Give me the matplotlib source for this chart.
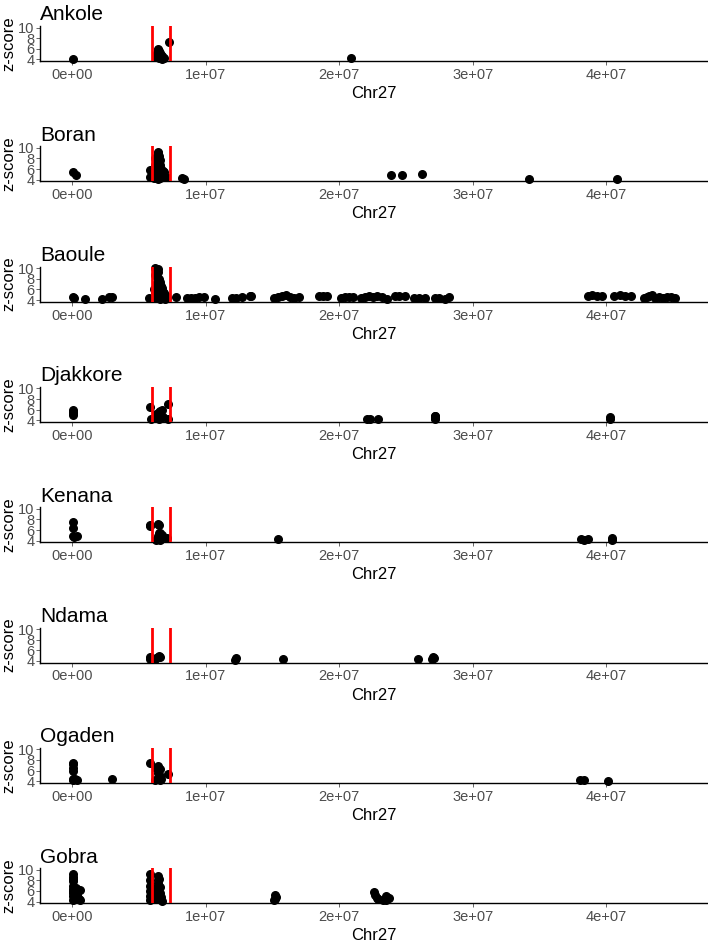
import numpy as np
import matplotlib.pyplot as plt

plt.rcParams['font.family'] = ['Liberation Sans', 'DejaVu Sans']

# positions in Mb, z-scores
breeds = ['Ankole', 'Boran', 'Baoule', 'Djakkore', 'Kenana', 'Ndama', 'Ogaden', 'Gobra']

ankole_pos = [0.1, 6.3, 6.35, 6.4, 6.45, 6.5, 6.5, 6.55, 6.6, 6.6, 6.65, 6.7, 6.75, 6.8, 6.9, 7.25, 20.9]
ankole_z = [4.1, 4.4, 5.3, 6.0, 5.8, 4.2, 5.5, 4.8, 5.2, 4.4, 4.9, 4.1, 4.6, 4.3, 4.2, 7.2, 4.3]

boran_pos = [0.07, 0.3, 5.85, 5.85, 6.1, 6.2, 6.3, 6.3, 6.35, 6.4, 6.4, 6.45, 6.45, 6.5, 6.5, 6.55,
             6.55, 6.6, 6.6, 6.65, 6.7, 6.8, 6.9, 7.0, 6.25, 6.35, 6.5, 6.7, 6.2,
             8.2, 8.4, 23.9, 24.7, 26.2, 34.2, 40.8]
boran_z = [5.5, 4.9, 5.9, 4.5, 4.3, 8.0, 7.2, 4.8, 6.0, 9.3, 6.5, 9.0, 4.2, 8.5, 5.0, 7.8,
           5.6, 6.8, 4.4, 6.0, 5.4, 5.6, 5.5, 4.6, 5.6, 4.4, 6.2, 4.6, 6.8,
           4.4, 4.2, 4.9, 4.9, 5.0, 4.2, 4.2]

baoule_pos = [0.1, 0.15, 0.95, 2.25, 2.8, 3.0, 5.75, 6.15, 6.2, 6.25, 6.3, 6.3, 6.35, 6.4, 6.4,
              6.45, 6.5, 6.5, 6.55, 6.6, 6.65, 6.7, 6.75, 6.8, 6.9, 7.0, 7.1, 6.3, 6.5, 6.6,
              6.2, 6.25, 6.35, 6.45, 6.55, 6.2, 6.4, 6.6, 6.85, 6.95,
              7.8, 8.6, 8.9, 9.2, 9.5, 9.9, 10.7, 12.0, 12.3, 12.7, 13.3, 13.4,
              15.1, 15.4, 15.7, 16.0, 16.3, 16.6, 17.0, 18.5, 18.8, 19.1, 20.1, 20.4, 20.7, 21.0,
              21.6, 21.9, 22.2, 22.5, 22.8, 23.2, 23.6, 24.2, 24.5, 24.9, 25.6, 26.0, 26.4,
              27.2, 27.5, 27.9, 28.2, 38.6, 38.9, 39.3, 39.7, 40.6, 41.0, 41.4, 41.8,
              42.8, 43.0, 43.2, 43.4, 43.6, 43.9, 44.2, 44.5, 44.8, 45.1]
baoule_z = [4.6, 4.4, 4.1, 4.2, 4.5, 4.6, 4.3, 6.0, 10.0, 9.6, 9.0, 5.0, 8.4, 9.8, 7.5,
            9.2, 8.0, 6.5, 7.4, 6.8, 6.6, 6.2, 5.8, 5.6, 5.4, 4.8, 4.3, 4.4, 4.6, 4.2,
            8.8, 7.0, 6.2, 5.4, 5.0, 5.5, 4.5, 5.2, 4.6, 4.2,
            4.6, 4.3, 4.4, 4.4, 4.5, 4.6, 4.1, 4.3, 4.4, 4.5, 4.7, 4.8,
            4.4, 4.5, 4.7, 4.9, 4.6, 4.4, 4.5, 4.8, 4.7, 4.8, 4.3, 4.6, 4.5, 4.6,
            4.4, 4.6, 4.7, 4.6, 4.7, 4.6, 4.1, 4.7, 4.8, 4.7, 4.3, 4.4, 4.3,
            4.3, 4.4, 4.2, 4.5, 4.8, 4.9, 4.8, 4.8, 4.8, 4.9, 4.8, 4.7,
            4.3, 4.6, 4.8, 5.0, 4.4, 4.6, 4.4, 4.5, 4.6, 4.4]

djakkore_pos = [0.07, 0.07, 0.07, 0.07, 5.8, 5.9, 6.2, 6.3, 6.4, 6.5, 6.5, 6.6, 6.6, 6.7, 6.8,
                7.2, 7.2, 22.1, 22.3, 22.9, 27.2, 27.2, 27.2, 27.2, 40.3, 40.3]
djakkore_z = [5.0, 5.3, 5.6, 5.9, 6.5, 4.3, 4.5, 5.2, 4.8, 5.5, 4.2, 5.8, 5.0, 6.0, 4.6,
              7.1, 4.3, 4.2, 4.3, 4.3, 4.2, 4.5, 4.8, 4.9, 4.3, 4.6]

kenana_pos = [0.07, 0.07, 0.07, 0.15, 0.35, 5.8, 5.85, 6.3, 6.4, 6.45, 6.5, 6.5, 6.55, 6.6, 6.6,
              6.7, 7.1, 15.45, 38.1, 38.3, 38.6, 40.4, 40.4]
kenana_z = [7.6, 6.4, 4.8, 4.7, 4.8, 7.0, 6.7, 4.2, 7.1, 4.8, 6.9, 5.5, 4.1, 5.5, 4.5,
            5.0, 4.4, 4.3, 4.3, 4.2, 4.3, 4.2, 4.5]

ndama_pos = [5.8, 5.85, 6.2, 6.3, 6.4, 6.5, 6.6, 12.2, 12.25, 15.8, 25.9, 26.95, 27.05, 27.1]
ndama_z = [4.7, 4.3, 4.3, 4.6, 4.8, 4.9, 4.8, 4.2, 4.5, 4.3, 4.3, 4.4, 4.7, 4.5]

ogaden_pos = [0.07, 0.07, 0.07, 0.07, 0.05, 0.1, 0.2, 0.35, 2.96, 5.82, 6.2, 6.3, 6.4, 6.45,
              6.5, 6.55, 6.6, 6.6, 6.65, 7.17, 38.0, 38.3, 40.1]
ogaden_z = [7.5, 7.2, 6.4, 6.0, 4.5, 4.2, 4.4, 4.3, 4.4, 7.5, 4.3, 6.5, 6.9, 5.5,
            4.8, 6.3, 5.0, 4.2, 4.5, 5.4, 4.2, 4.2, 4.1]

gobra_pos = [0.05, 0.05, 0.05, 0.05, 0.05, 0.05, 0.05, 0.05, 0.1, 0.1, 0.3, 0.4, 0.5, 0.6, 0.6,
             5.8, 5.8, 5.8, 5.8, 5.8, 5.8, 6.2, 6.3, 6.35, 6.4, 6.45, 6.5, 6.55, 6.6, 6.6, 6.65, 6.7,
             15.1, 15.2, 15.3, 15.2, 22.6, 22.7, 22.8, 22.9, 23.3, 23.5, 23.7, 23.5]
gobra_z = [9.2, 8.6, 7.8, 7.0, 6.4, 5.6, 5.0, 4.3, 8.2, 6.0, 6.5, 5.2, 4.5, 6.2, 4.2,
           9.2, 8.0, 7.0, 6.0, 5.0, 4.3, 4.5, 6.5, 5.5, 7.5, 8.8, 8.2, 6.8, 5.6, 4.4, 4.9, 4.1,
           4.3, 5.2, 4.8, 4.5, 5.7, 5.2, 4.6, 4.4, 4.2, 5.0, 4.6, 4.2]

data = [(ankole_pos, ankole_z), (boran_pos, boran_z), (baoule_pos, baoule_z),
        (djakkore_pos, djakkore_z), (kenana_pos, kenana_z), (ndama_pos, ndama_z),
        (ogaden_pos, ogaden_z), (gobra_pos, gobra_z)]

region = [6.0e6, 7.3e6]
xticks = [0, 1e7, 2e7, 3e7, 4e7]
xtick_labels = ['0e+00', '1e+07', '2e+07', '3e+07', '4e+07']
yticks = [4, 6, 8, 10]

W, H = 708, 943
fig = plt.figure(figsize=(W / 100, H / 100), dpi=100)

for i, name in enumerate(breeds):
    pos, z = data[i]
    bottom_px = 61 + 120.3 * i
    ax = fig.add_axes([40 / W, 1 - bottom_px / H, 668 / W, 35 / H])
    ax.scatter(np.array(pos) * 1e6, z, s=30, color='black', zorder=2, clip_on=False)
    for r in region:
        ax.axvline(r, color='red', lw=2.0, zorder=3)
    ax.set_xlim(-2.4e6, 4.76e7)
    ax.set_ylim(3.7, 10.3)
    ax.set_xticks(xticks)
    ax.set_xticklabels(xtick_labels)
    ax.set_yticks(yticks)
    ax.tick_params(labelsize=10.5, colors='#4d4d4d', length=3, width=0.6, pad=2)
    ax.tick_params(axis='y', pad=1)
    for s in ['top', 'right']:
        ax.spines[s].set_visible(False)
    for s in ['left', 'bottom']:
        ax.spines[s].set_linewidth(1.0)
        ax.spines[s].set_color('black')
    ax.set_xlabel('Chr27', fontsize=12, labelpad=3)
    ax.set_ylabel('z-score', fontsize=12, labelpad=1)
    ax.set_title(name, loc='left', fontsize=15, pad=4)

fig.savefig('out.png', dpi=100)
